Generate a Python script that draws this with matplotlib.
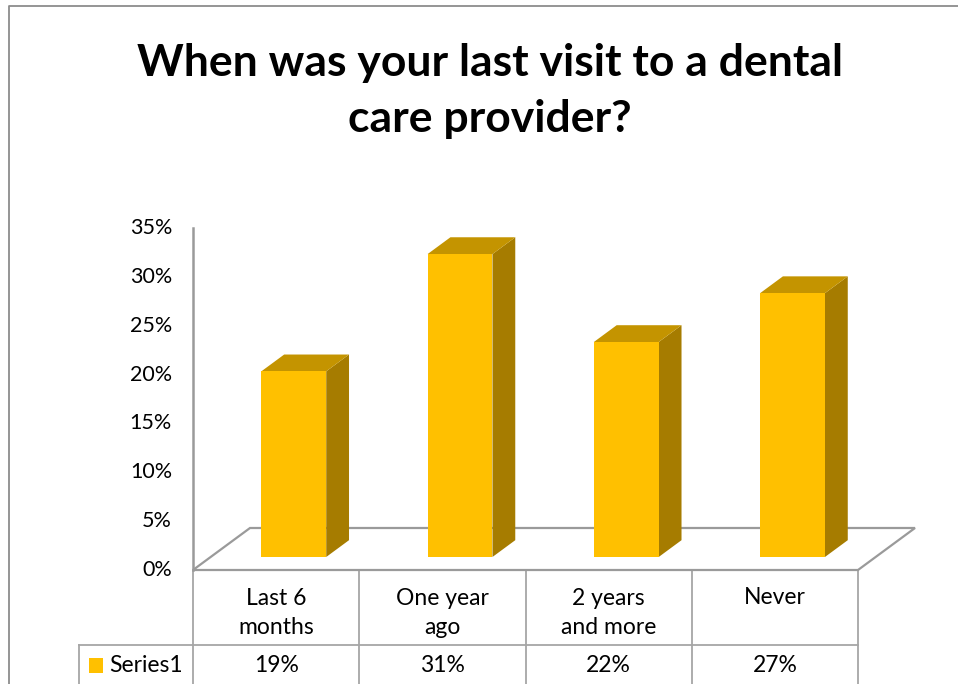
import matplotlib
matplotlib.use("Agg")
import matplotlib.pyplot as plt
from matplotlib.patches import Polygon, Rectangle
from matplotlib.lines import Line2D
from matplotlib.transforms import IdentityTransform

categories = ["Last 6\nmonths", "One year\nago", "2 years\nand more", "Never"]
values = [19, 31, 22, 27]
value_labels = ["19%", "31%", "22%", "27%"]
series_name = "Series1"
yticks = [0, 5, 10, 15, 20, 25, 30, 35]
title = "When was your last visit to a dental\ncare provider?"

FONT = "Lato"
W, H, DPI = 958, 684, 100
fig = plt.figure(figsize=(W / DPI, H / DPI), dpi=DPI)
fig.patch.set_facecolor("white")

# front plane axes: x in categories, y in percent
ax = fig.add_axes([193 / W, (H - 570) / H, 665 / W, 342 / H])
ax.set_xlim(-0.5, len(categories) - 0.5)
ax.set_ylim(0, 35)
ax.axis("off")

DEPTH = (57, 42)          # floor depth in pixels (dx, dy up)
Z0, Z1 = 0.31, 0.71       # bar depth range
BW = 0.39                 # bar width (category units)
GRAY = "#9a9a9a"
TGRAY = "#a6a6a6"


def proj(x, y, z):
    px, py = ax.transData.transform((x, y))
    return (px + z * DEPTH[0], py + z * DEPTH[1])


def poly(pts, **kw):
    p = Polygon(pts, closed=True, transform=IdentityTransform(), clip_on=False, **kw)
    fig.add_artist(p)
    return p


def line(pts, color=GRAY, lw=1.6, z=1):
    xs = [p[0] / W for p in pts]
    ys = [p[1] / H for p in pts]
    fig.add_artist(Line2D(xs, ys, color=color, lw=lw, transform=fig.transFigure, zorder=z))

# outer chart border
line([(9, 0), (9, H - 6), (W + 5, H - 6)], color="#8c8c8c", lw=1.3)

# floor
x0, x1 = -0.5, len(categories) - 0.5
floor = [proj(x0, 0, 0), proj(x0, 0, 1), proj(x1, 0, 1), proj(x1, 0, 0)]
poly(floor, facecolor="white", edgecolor=GRAY, lw=1.6, zorder=2)

# vertical axis
line([proj(x0, 0, 0), proj(x0, 35, 0)], lw=1.8, z=3)
for t in yticks:
    px, py = proj(x0, t, 0)
    fig.text((px - 21) / W, py / H, f"{t}%", ha="right", va="center",
             fontsize=15.5, family=FONT, color="black")

FRONT = "#ffc000"
TOP = "#c49400"
SIDE = "#a67c00"
for i, v in enumerate(values):
    xl, xr = i - BW / 2, i + BW / 2
    # side face
    poly([proj(xr, 0, Z0), proj(xr, v, Z0), proj(xr, v, Z1), proj(xr, 0, Z1)],
         facecolor=SIDE, edgecolor="none", zorder=4)
    # top face
    poly([proj(xl, v, Z0), proj(xl, v, Z1), proj(xr, v, Z1), proj(xr, v, Z0)],
         facecolor=TOP, edgecolor="none", zorder=4)
    # front face
    poly([proj(xl, 0, Z0), proj(xl, v, Z0), proj(xr, v, Z0), proj(xr, 0, Z0)],
         facecolor=FRONT, edgecolor="none", zorder=5)

# data table
row1_top = proj(x0, 0, 0)[1]
row_sep = H - 645
for k in range(len(categories) + 1):
    px = proj(k - 0.5, 0, 0)[0]
    line([(px, row1_top), (px, -2)], color=TGRAY, lw=1.3)
line([(79, row_sep), (proj(x1, 0, 0)[0], row_sep)], color=TGRAY, lw=1.3)
line([(79, row_sep), (79, -2)], color=TGRAY, lw=1.3)

TFS = 16.5
for i, (c, vl) in enumerate(zip(categories, value_labels)):
    px = proj(i, 0, 0)[0]
    ty = 613 if "\n" in c else 598
    fig.text(px / W, (H - ty) / H, c, ha="center", va="center", fontsize=TFS,
             family=FONT, linespacing=1.42, color="black")
    fig.text(px / W, (H - 665) / H, vl, ha="center", va="center", fontsize=TFS,
             family=FONT, color="black")

fig.add_artist(Rectangle((89 / W, (H - 673) / H), 14 / W, 15 / H, facecolor=FRONT,
                         edgecolor="none", transform=fig.transFigure))
fig.text(109 / W, (H - 665) / H, series_name, ha="left", va="center", fontsize=TFS,
         family=FONT, color="black")

fig.text(490 / W, (H - 91) / H, title, ha="center", va="center", fontsize=32,
         family=FONT, weight="bold", linespacing=1.48, color="black")

fig.savefig("out.png", dpi=DPI, facecolor="white")
